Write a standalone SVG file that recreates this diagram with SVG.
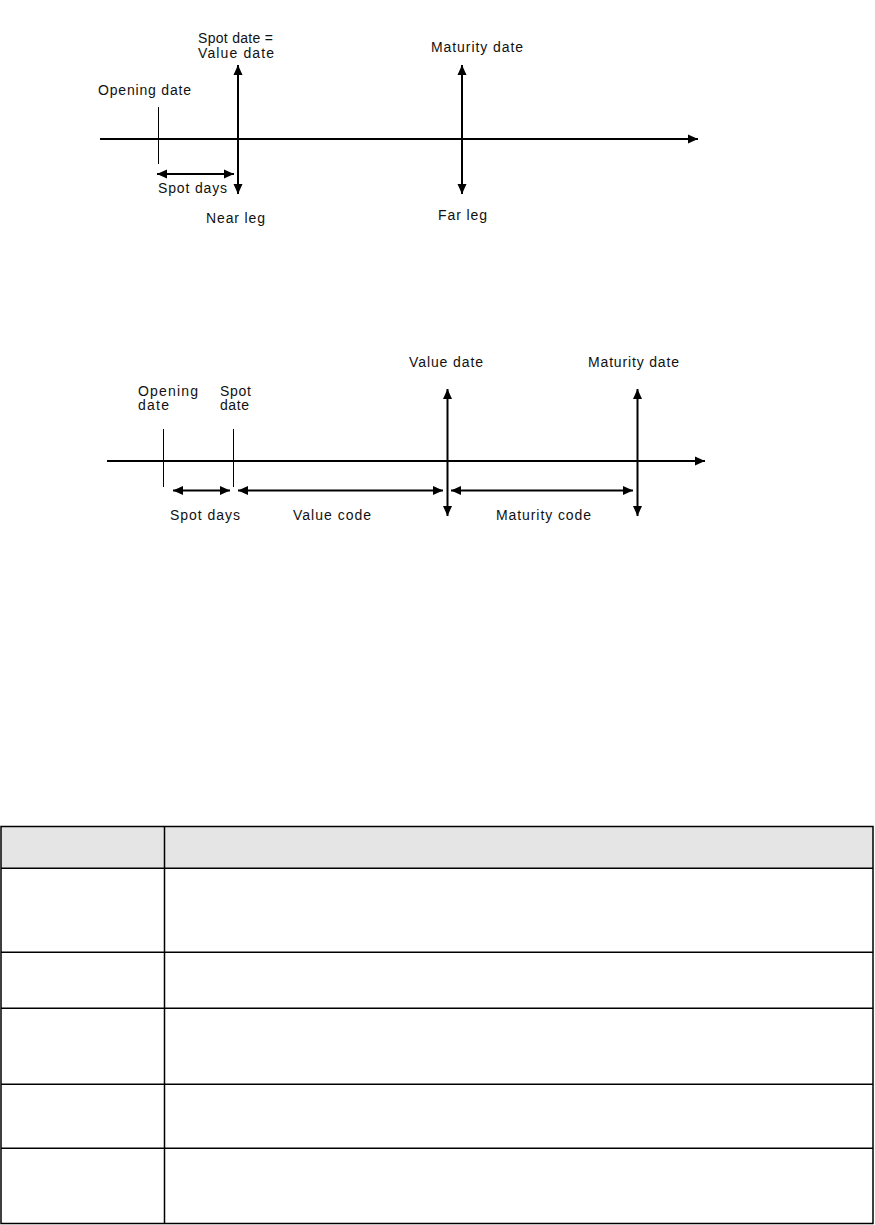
<svg xmlns="http://www.w3.org/2000/svg" width="875" height="1225" viewBox="0 0 875 1225">
<style>
text{font-family:"Liberation Sans",Arial,sans-serif;font-size:14px;fill:#111}
.ax{stroke:#000;stroke-width:2;fill:none}
.tk{stroke:#000;stroke-width:1;fill:none}
.grid{stroke:#000;stroke-width:1.5;fill:none}
</style>
<defs>
<marker id="ah" markerUnits="userSpaceOnUse" markerWidth="12" markerHeight="12" viewBox="0 0 12 12" refX="10" refY="6" orient="auto-start-reverse">
<path d="M0,1.5 L10,6 L0,10.5 Z" fill="#000"/>
</marker>
</defs>
<rect width="875" height="1225" fill="#fff"/>

<g id="diagram1">
<g id="d1-connectors">
<line class="ax" x1="100" y1="139" x2="698" y2="139" marker-end="url(#ah)"/>
<line class="tk" x1="158.5" y1="107" x2="158.5" y2="164"/>
<line class="ax" x1="238" y1="65" x2="238" y2="194" marker-start="url(#ah)" marker-end="url(#ah)"/>
<line class="ax" x1="157" y1="174" x2="234" y2="174" marker-start="url(#ah)" marker-end="url(#ah)"/>
<line class="ax" x1="462" y1="65" x2="462" y2="194" marker-start="url(#ah)" marker-end="url(#ah)"/>
</g>
<g id="d1-opening"><text x="98" y="95" textLength="93" lengthAdjust="spacing">Opening date</text></g>
<g id="d1-spot"><text x="198" y="43" textLength="75" lengthAdjust="spacing">Spot date =</text><text x="198" y="58" textLength="76" lengthAdjust="spacing">Value date</text></g>
<g id="d1-spotdays"><text x="158" y="193" textLength="69" lengthAdjust="spacing">Spot days</text></g>
<g id="d1-near"><text x="206" y="223" textLength="59" lengthAdjust="spacing">Near leg</text></g>
<g id="d1-maturity"><text x="431" y="52" textLength="92" lengthAdjust="spacing">Maturity date</text></g>
<g id="d1-far"><text x="438" y="220" textLength="49" lengthAdjust="spacing">Far leg</text></g>
</g>

<g id="diagram2">
<g id="d2-connectors">
<line class="ax" x1="107" y1="461" x2="705" y2="461" marker-end="url(#ah)"/>
<line class="tk" x1="163.5" y1="429" x2="163.5" y2="487"/>
<line class="tk" x1="233.5" y1="429" x2="233.5" y2="487"/>
<line class="ax" x1="173" y1="490.5" x2="230" y2="490.5" marker-start="url(#ah)" marker-end="url(#ah)"/>
<line class="ax" x1="238" y1="490.5" x2="443" y2="490.5" marker-start="url(#ah)" marker-end="url(#ah)"/>
<line class="ax" x1="451" y1="490.5" x2="633" y2="490.5" marker-start="url(#ah)" marker-end="url(#ah)"/>
<line class="ax" x1="447.5" y1="389" x2="447.5" y2="516" marker-start="url(#ah)" marker-end="url(#ah)"/>
<line class="ax" x1="637.5" y1="389" x2="637.5" y2="516" marker-start="url(#ah)" marker-end="url(#ah)"/>
</g>
<g id="d2-opening"><text x="138" y="396" textLength="60" lengthAdjust="spacing">Opening</text><text x="138" y="410" textLength="31" lengthAdjust="spacing">date</text></g>
<g id="d2-spot"><text x="220" y="396" textLength="31" lengthAdjust="spacing">Spot</text><text x="220" y="410" textLength="29" lengthAdjust="spacing">date</text></g>
<g id="d2-spotdays"><text x="170" y="520" textLength="70" lengthAdjust="spacing">Spot days</text></g>
<g id="d2-valuecode"><text x="293" y="520" textLength="78" lengthAdjust="spacing">Value code</text></g>
<g id="d2-valuedate"><text x="409" y="367" textLength="74" lengthAdjust="spacing">Value date</text></g>
<g id="d2-maturitydate"><text x="588" y="367" textLength="91" lengthAdjust="spacing">Maturity date</text></g>
<g id="d2-maturitycode"><text x="496" y="520" textLength="95" lengthAdjust="spacing">Maturity code</text></g>
</g>

<g id="table">
<rect x="1" y="827" width="872" height="41" fill="#e5e5e5"/>
<rect class="grid" x="1" y="826.5" width="872" height="397"/>
<line class="grid" x1="164.5" y1="826.5" x2="164.5" y2="1223.5"/>
<line class="grid" x1="1" y1="868.3" x2="873" y2="868.3"/>
<line class="grid" x1="1" y1="952.3" x2="873" y2="952.3"/>
<line class="grid" x1="1" y1="1008.3" x2="873" y2="1008.3"/>
<line class="grid" x1="1" y1="1084.3" x2="873" y2="1084.3"/>
<line class="grid" x1="1" y1="1148.3" x2="873" y2="1148.3"/>
</g>
</svg>
